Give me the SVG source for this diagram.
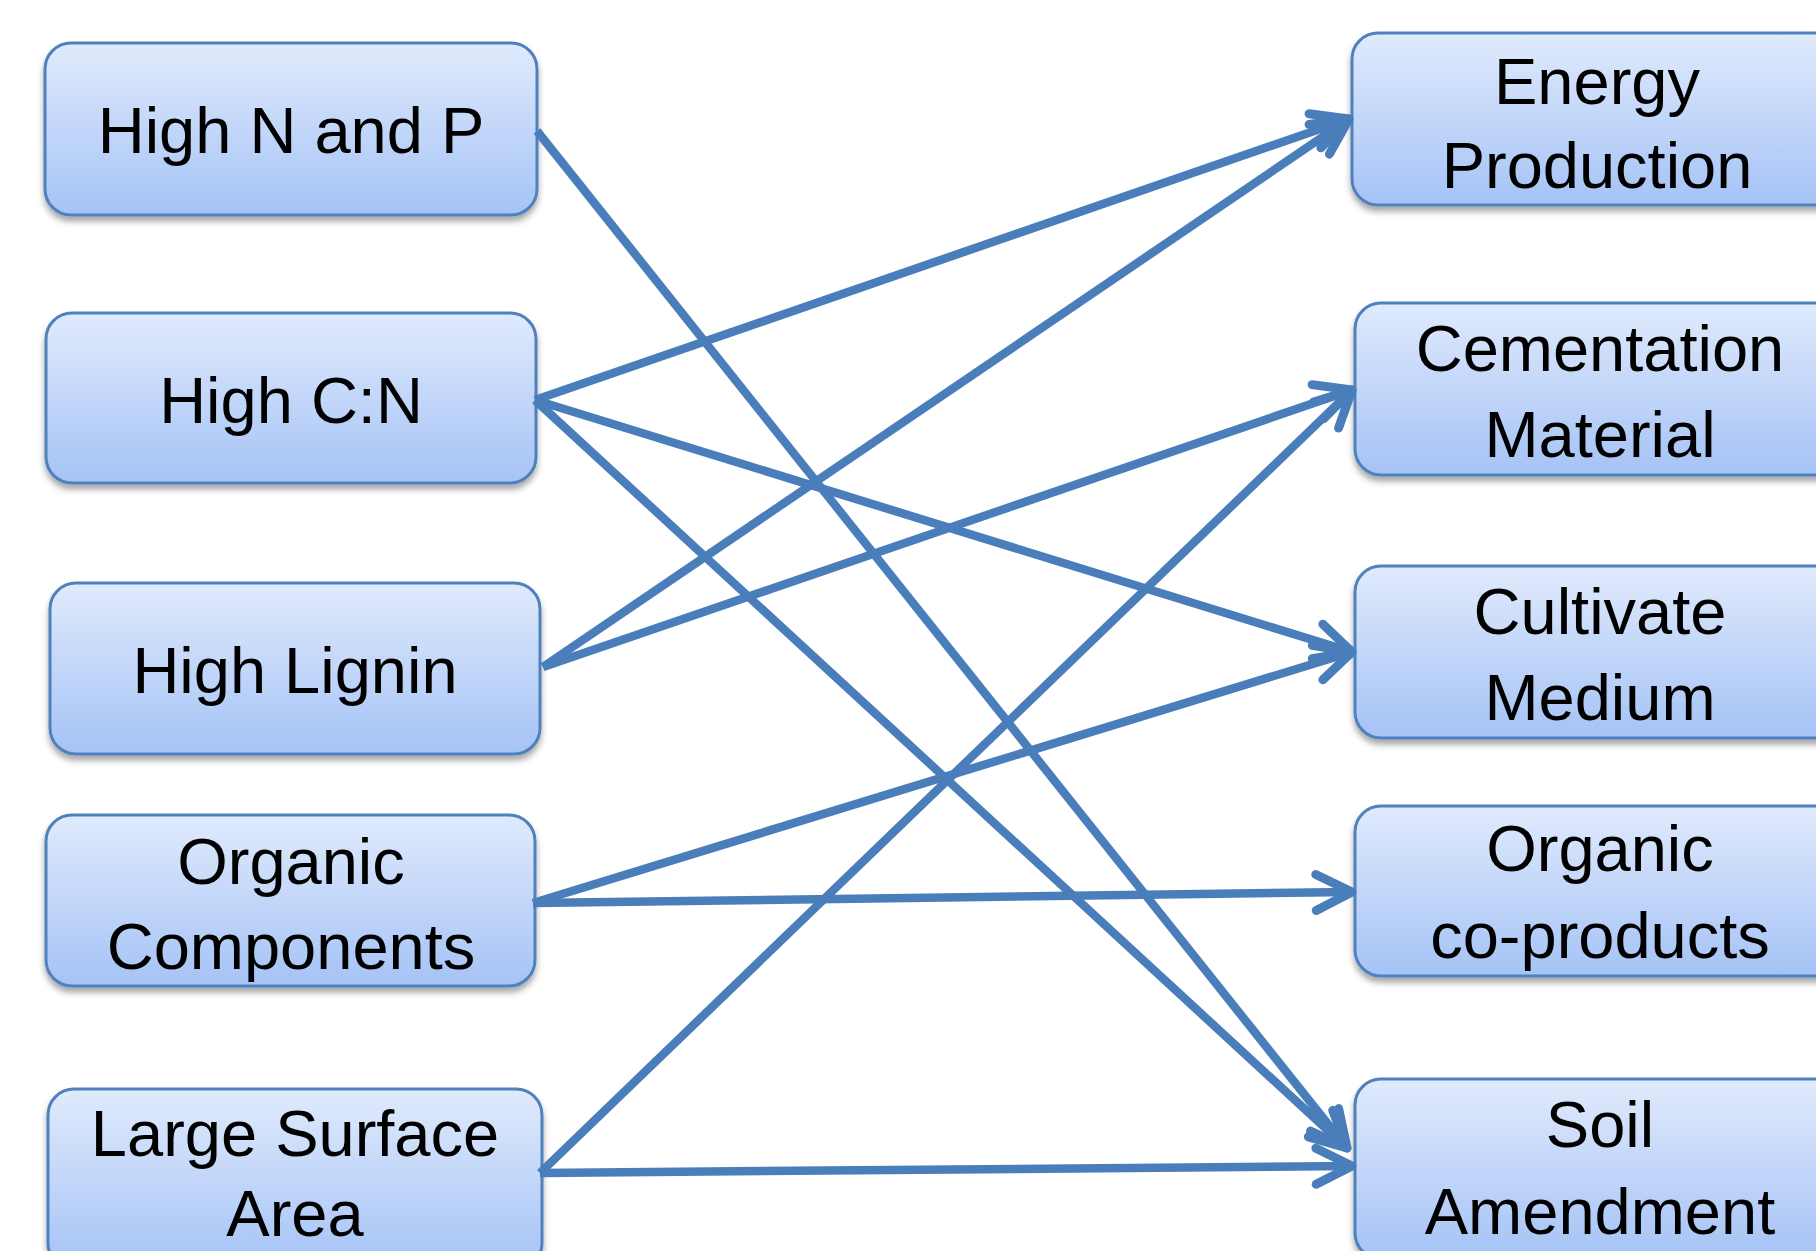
<svg xmlns="http://www.w3.org/2000/svg" width="1816" height="1251" viewBox="0 0 1816 1251">
<defs>
<linearGradient id="g" x1="0" y1="0" x2="0" y2="1">
<stop offset="0" stop-color="#e0eafc"/>
<stop offset="1" stop-color="#a5c3f6"/>
</linearGradient>
<filter id="sh" x="-10%" y="-10%" width="120%" height="130%">
<feDropShadow dx="0" dy="5" stdDeviation="3" flood-color="#000" flood-opacity="0.35"/>
</filter>
<marker id="arr" markerUnits="userSpaceOnUse" markerWidth="60" markerHeight="60" viewBox="-45 -30 60 60" refX="0" refY="0" orient="auto" overflow="visible">
<path d="M-36,-18 L0,0 L-36,18" fill="none" stroke="#4a7ebb" stroke-width="9" stroke-linecap="round" stroke-linejoin="round"/>
</marker>
</defs>
<style>
.box{fill:url(#g);stroke:#4f81bd;stroke-width:3;filter:url(#sh)}
.t{font-family:"Liberation Sans",Arial,sans-serif;font-size:65px;fill:#000;text-anchor:middle}
.e{fill:none;stroke:#4a7ebb;stroke-width:8.5;marker-end:url(#arr)}
</style>
<rect width="1816" height="1251" fill="#fff"/>
<g id="n1"><rect class="box" x="45" y="43" width="492" height="172" rx="26"/><text class="t" x="291" y="153">High N and P</text></g>
<g id="n2"><rect class="box" x="46" y="313" width="490" height="170" rx="26"/><text class="t" x="291" y="423">High C:N</text></g>
<g id="n3"><rect class="box" x="50" y="583" width="490" height="171" rx="26"/><text class="t" x="295" y="693">High Lignin</text></g>
<g id="n4"><rect class="box" x="46" y="815" width="489" height="171" rx="26"/><text class="t" x="291" y="884">Organic</text><text class="t" x="291" y="969">Components</text></g>
<g id="n5"><rect class="box" x="48" y="1089" width="494" height="180" rx="26"/><text class="t" x="295" y="1156">Large Surface</text><text class="t" x="295" y="1236">Area</text></g>
<g id="n6"><rect class="box" x="1352" y="33" width="492" height="172" rx="26"/><text class="t" x="1597" y="104">Energy</text><text class="t" x="1597" y="188">Production</text></g>
<g id="n7"><rect class="box" x="1355" y="303" width="492" height="172" rx="26"/><text class="t" x="1600" y="371">Cementation</text><text class="t" x="1600" y="457">Material</text></g>
<g id="n8"><rect class="box" x="1355" y="566" width="492" height="172" rx="26"/><text class="t" x="1600" y="634">Cultivate</text><text class="t" x="1600" y="720">Medium</text></g>
<g id="n9"><rect class="box" x="1355" y="806" width="492" height="170" rx="26"/><text class="t" x="1600" y="871">Organic</text><text class="t" x="1600" y="958">co-products</text></g>
<g id="n10"><rect class="box" x="1355" y="1079" width="492" height="180" rx="26"/><text class="t" x="1600" y="1147">Soil</text><text class="t" x="1600" y="1234">Amendment</text></g>
<g id="edges">
<line class="e" x1="537" y1="131" x2="1347" y2="1148"/>
<line class="e" x1="535" y1="400" x2="1349" y2="119"/>
<line class="e" x1="535" y1="400" x2="1352" y2="652"/>
<line class="e" x1="535" y1="400" x2="1347" y2="1148"/>
<line class="e" x1="543" y1="667" x2="1349" y2="119"/>
<line class="e" x1="543" y1="667" x2="1352" y2="390"/>
<line class="e" x1="533" y1="903" x2="1352" y2="652"/>
<line class="e" x1="533" y1="903" x2="1352" y2="892"/>
<line class="e" x1="540" y1="1173" x2="1352" y2="390"/>
<line class="e" x1="540" y1="1173" x2="1352" y2="1166"/>
</g>
</svg>
